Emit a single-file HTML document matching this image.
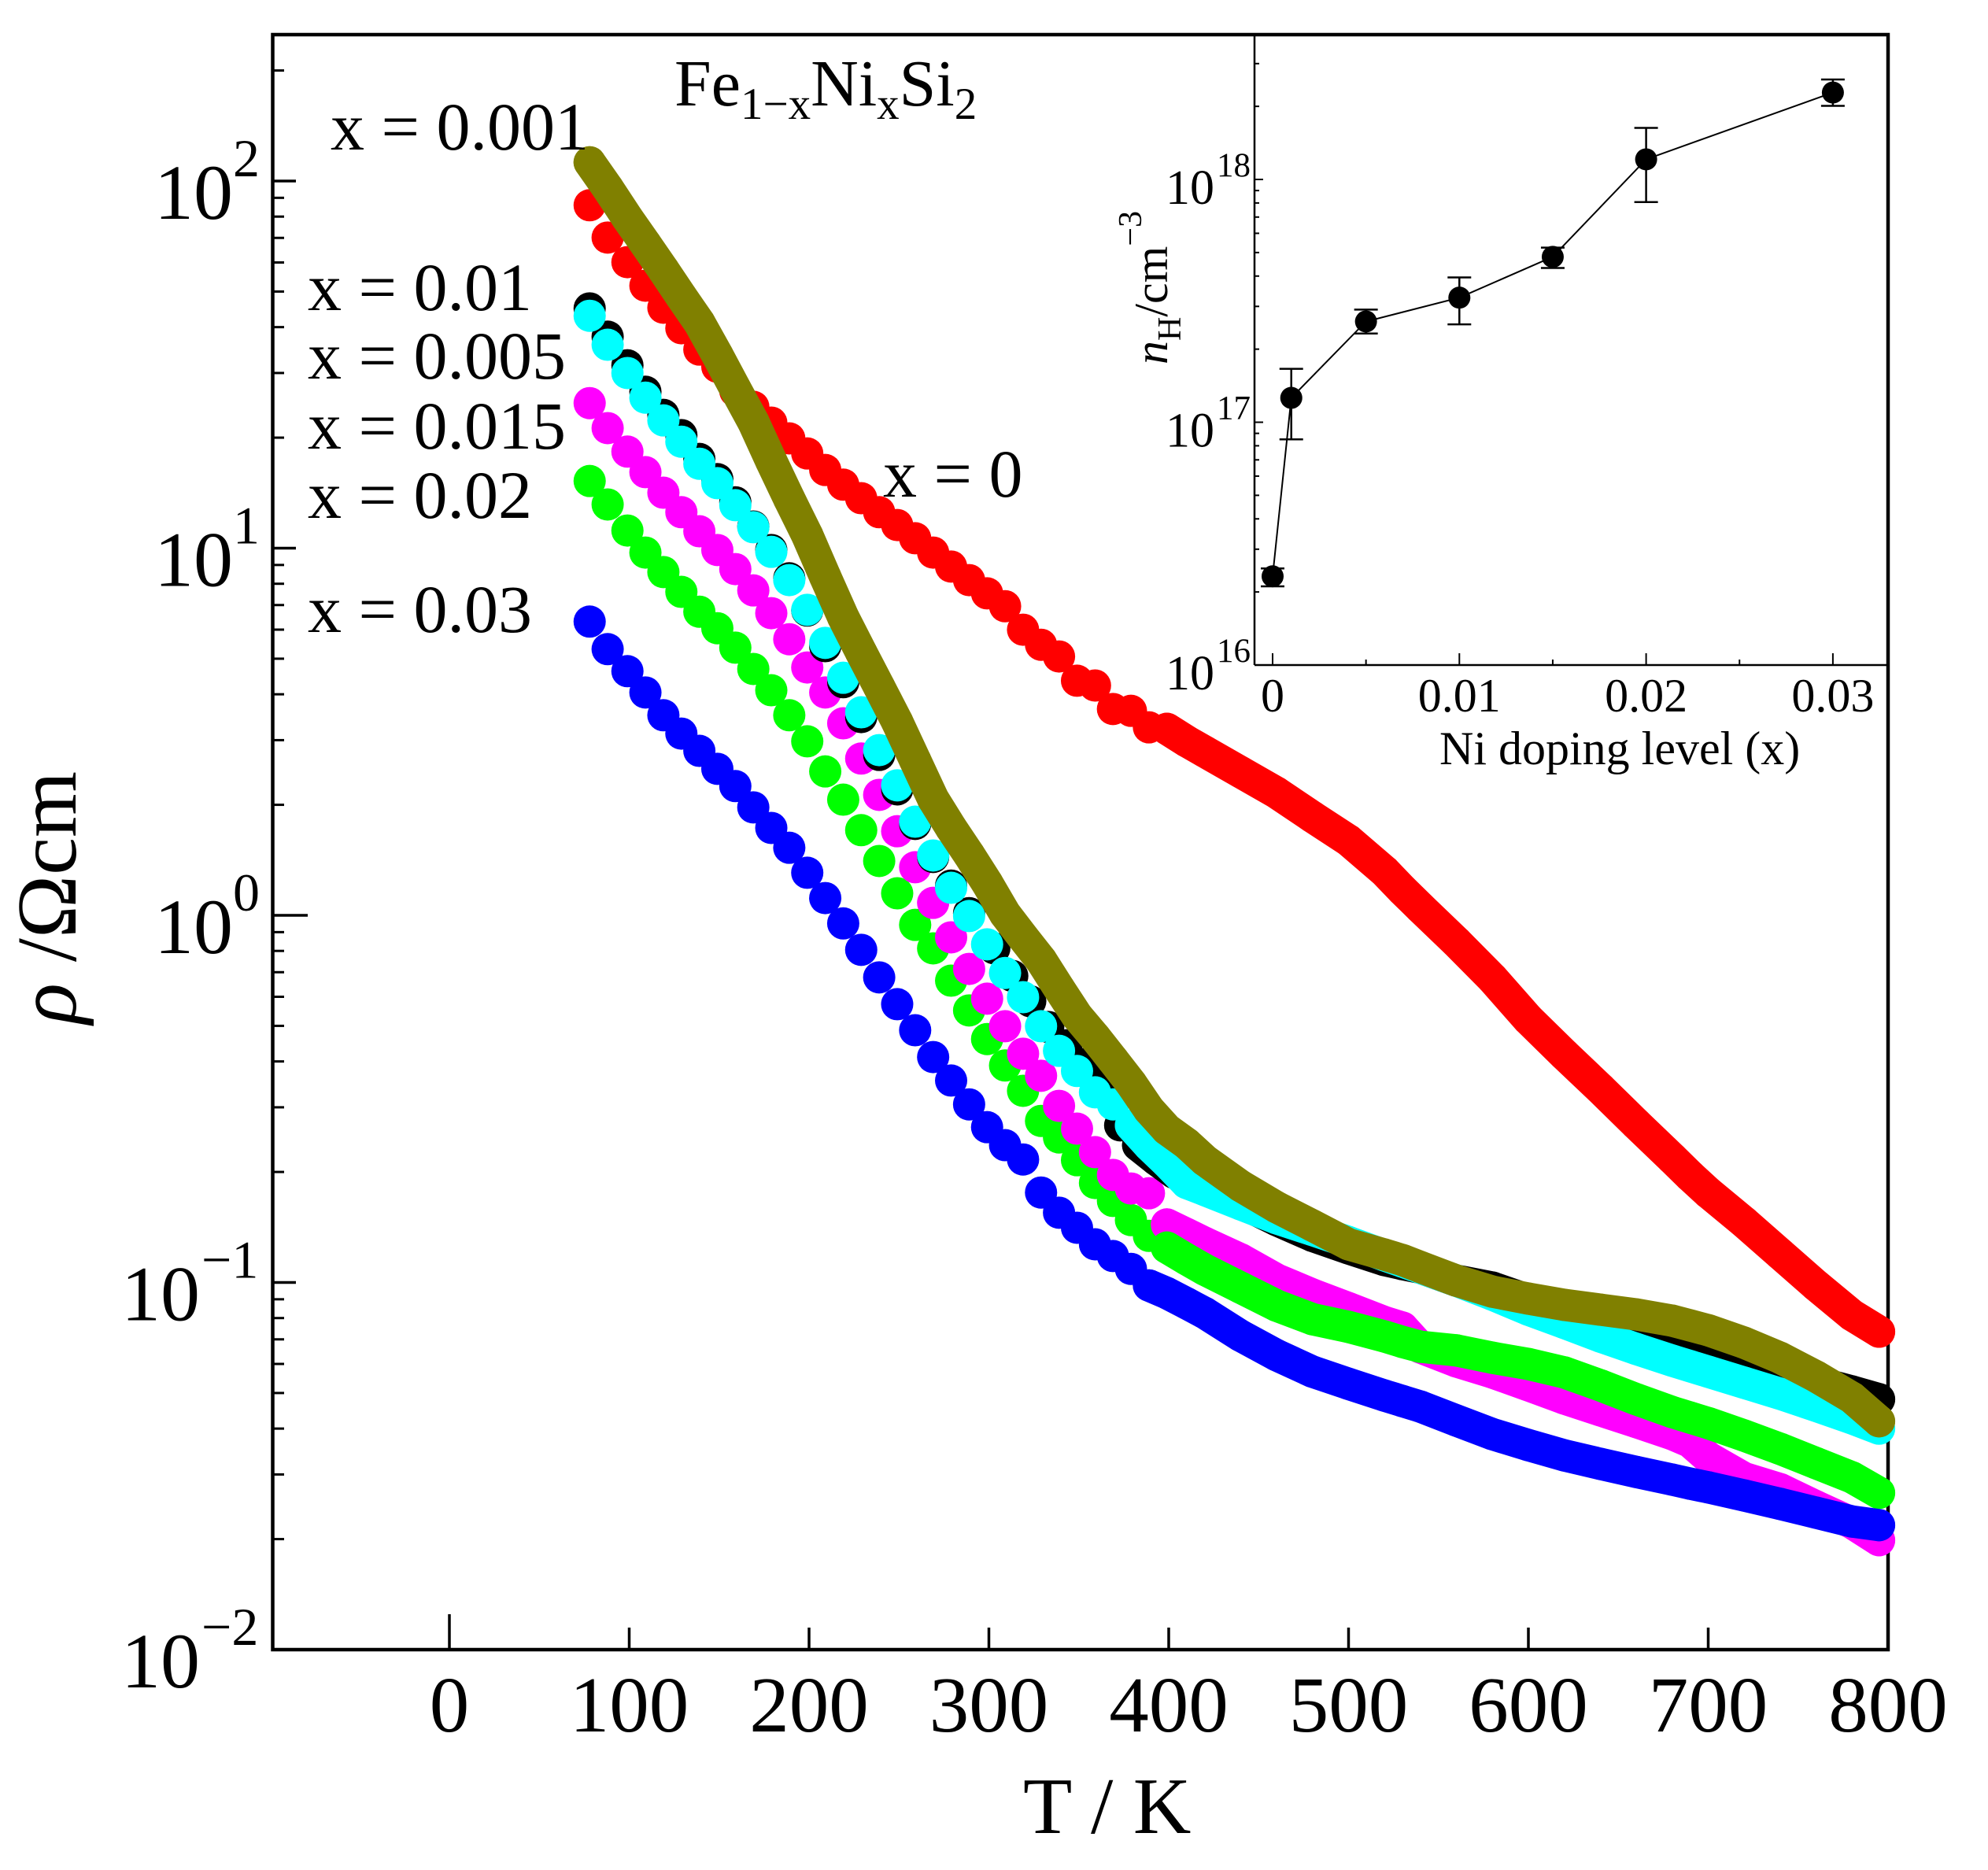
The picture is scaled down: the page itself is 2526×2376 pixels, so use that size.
<!DOCTYPE html>
<html lang="en">
<head>
<meta charset="utf-8">
<title>Fe1-xNixSi2 resistivity versus temperature</title>
<style>
html,body{margin:0;padding:0;background:#fff;}
svg{display:block;}
text{font-family:"Liberation Serif",serif;fill:#000;}
</style>
</head>
<body>
<svg id="chart" xmlns="http://www.w3.org/2000/svg" width="2526" height="2376" viewBox="0 0 2526 2376">
  <rect x="0" y="0" width="2526" height="2376" fill="#fff"/>
  <g id="axes"></g>
  <g id="inset"></g>
  <g id="series"></g>
  <g>
    <text x="857" y="134" font-size="84">Fe<tspan dy="17" font-size="57">1−x</tspan><tspan dy="-17">Ni</tspan><tspan dy="17" font-size="57">x</tspan><tspan dy="-17">Si</tspan><tspan dy="17" font-size="57">2</tspan></text>
    <text x="420" y="190" font-size="86">x = 0.001</text>
    <text x="391" y="394" font-size="86">x = 0.01</text>
    <text x="391" y="481" font-size="86">x = 0.005</text>
    <text x="391" y="570" font-size="86">x = 0.015</text>
    <text x="391" y="658" font-size="86">x = 0.02</text>
    <text x="391" y="803" font-size="86">x = 0.03</text>
    <text x="1122" y="631" font-size="86">x = 0</text>
    <text x="1300" y="2329" font-size="102">T / K</text>
    <text transform="translate(96 1301) rotate(-90)" font-size="108"><tspan font-style="italic">ρ</tspan> /Ωcm</text>
    <text transform="translate(1483 463) rotate(-90)" font-size="60"><tspan font-style="italic">n</tspan><tspan dy="17" font-size="42">H</tspan><tspan dy="-17">/cm</tspan><tspan dy="-33" font-size="42">−3</tspan></text>
    <text x="1829" y="971" font-size="60">Ni doping level (x)</text>
  </g>
</svg>
<script>
// ---- main chart data: temperature in K, log10(resistivity / Ohm cm) ----
const temperatures = [78,88,99,109,119,129,139,149,159,169,179,189,199,209,219,229,239,249,259,269,279,289,299,309,319,329,339,349,359,369,379,389,399,
  410,420,440,460,480,500,520,530,540,560,580,600,620,640,660,680,690,700,720,740,760,780,795];
const temperaturesBlack = [78,88,99,109,119,129,139,149,159,169,179,189,199,209,219,229,239,249,259,269,279,289,303,313,323,333,343,353,363,373,383,393,403,
  410,420,440,460,480,500,520,530,540,560,580,600,620,640,660,680,690,700,720,740,760,780,795];
const logRhoRed = [1.934,1.846,1.779,1.715,1.655,1.599,1.541,1.494,1.428,1.385,1.342,1.299,1.258,1.213,1.173,1.136,1.098,1.063,1.027,0.988,0.950,0.913,0.877,0.842,0.778,0.737,0.705,0.639,0.626,0.562,0.557,0.512,0.508,
  0.474,0.446,0.390,0.334,0.268,0.204,0.120,0.069,0.021,-0.073,-0.172,-0.283,-0.379,-0.472,-0.568,-0.662,-0.710,-0.755,-0.836,-0.922,-1.008,-1.089,-1.134];
const logRhoOlive = [2.051,1.981,1.899,1.829,1.758,1.685,1.614,1.526,1.434,1.344,1.237,1.134,1.035,0.922,0.812,0.716,0.622,0.527,0.422,0.317,0.238,0.165,0.088,0.004,-0.060,-0.122,-0.199,-0.274,-0.332,-0.394,-0.457,-0.529,-0.583,
  -0.622,-0.667,-0.737,-0.795,-0.845,-0.896,-0.924,-0.939,-0.958,-0.995,-1.025,-1.044,-1.061,-1.074,-1.087,-1.104,-1.117,-1.130,-1.164,-1.205,-1.256,-1.314,-1.378];
const logRhoBlack = [1.653,1.576,1.498,1.426,1.363,1.308,1.243,1.188,1.125,1.059,0.995,0.918,0.830,0.733,0.635,0.540,0.437,0.343,0.249,0.159,0.081,0.006,-0.090,-0.165,-0.234,-0.304,-0.354,-0.405,-0.448,-0.572,-0.626,-0.665,-0.701,
  -0.716,-0.733,-0.782,-0.830,-0.873,-0.907,-0.939,-0.950,-0.960,-0.995,-1.014,-1.048,-1.076,-1.108,-1.145,-1.175,-1.190,-1.205,-1.226,-1.245,-1.271,-1.297,-1.318];
const logRhoCyan = [1.633,1.554,1.477,1.410,1.348,1.290,1.230,1.177,1.117,1.057,0.990,0.913,0.832,0.742,0.647,0.553,0.450,0.354,0.255,0.163,0.075,-0.002,-0.079,-0.157,-0.223,-0.302,-0.369,-0.424,-0.482,-0.515,-0.572,-0.626,-0.673,
  -0.729,-0.748,-0.787,-0.825,-0.857,-0.890,-0.926,-0.943,-0.960,-0.995,-1.033,-1.074,-1.110,-1.147,-1.181,-1.213,-1.228,-1.243,-1.273,-1.303,-1.336,-1.370,-1.398];
const logRhoMagenta = [1.395,1.327,1.263,1.207,1.151,1.098,1.046,0.995,0.943,0.885,0.823,0.752,0.675,0.607,0.523,0.427,0.328,0.229,0.131,0.034,-0.060,-0.146,-0.227,-0.302,-0.377,-0.437,-0.519,-0.581,-0.645,-0.707,-0.744,-0.757,-0.842,
  -0.868,-0.892,-0.937,-0.992,-1.033,-1.070,-1.108,-1.123,-1.177,-1.215,-1.245,-1.280,-1.316,-1.348,-1.380,-1.413,-1.434,-1.477,-1.533,-1.563,-1.610,-1.655,-1.702];
const logRhoGreen = [1.183,1.119,1.048,0.988,0.935,0.881,0.827,0.782,0.729,0.671,0.613,0.545,0.474,0.392,0.315,0.232,0.148,0.060,-0.026,-0.090,-0.178,-0.259,-0.337,-0.409,-0.478,-0.560,-0.605,-0.667,-0.729,-0.778,-0.830,-0.873,-0.905,
  -0.937,-0.965,-1.014,-1.063,-1.100,-1.121,-1.147,-1.162,-1.175,-1.185,-1.205,-1.222,-1.245,-1.280,-1.318,-1.353,-1.368,-1.383,-1.417,-1.453,-1.492,-1.531,-1.573];
const logRhoBlue = [0.800,0.725,0.665,0.607,0.545,0.495,0.448,0.399,0.352,0.294,0.238,0.184,0.116,0.047,-0.022,-0.094,-0.169,-0.242,-0.313,-0.386,-0.450,-0.515,-0.577,-0.626,-0.665,-0.755,-0.810,-0.851,-0.896,-0.928,-0.963,-1.008,-1.029,
  -1.057,-1.083,-1.145,-1.198,-1.243,-1.276,-1.308,-1.323,-1.338,-1.376,-1.413,-1.443,-1.471,-1.494,-1.516,-1.537,-1.548,-1.558,-1.580,-1.603,-1.627,-1.651,-1.661];
const xTickValues = [0,100,200,300,400,500,600,700,800];
const yDecadeExponents = [2,1,0,-1,-2];

// ---- inset data: Ni doping level, Hall carrier density in cm^-3 ----
const dopingLevels = [0,0.001,0.005,0.01,0.015,0.02,0.03];
const carrierDensity = [2.32e16,1.26e17,2.6e17,3.26e17,4.8e17,1.21e18,2.28e18];
const carrierDensityLow = [2.11e16,8.5e16,2.32e17,2.53e17,4.32e17,8.07e17,2.01e18];
const carrierDensityHigh = [2.5e16,1.66e17,2.91e17,3.95e17,5.24e17,1.63e18,2.58e18];
const insetXTickValues = [0,0.01,0.02,0.03];
const insetXMinorValues = [0.005,0.015,0.025];
const insetDecadeExponents = [18,17,16];

const SVG_NS = 'http://www.w3.org/2000/svg';
const axesLayer = document.getElementById('axes');
const insetLayer = document.getElementById('inset');
const seriesLayer = document.getElementById('series');

// main axis functions
function xScale(t){ return 571 + 2.285 * t; }
function yScale(logRho){ return 2096 - 466.5 * (logRho + 2); }
// inset axis functions
function insetX(x){ return 1617 + 23730 * x; }
function insetY(n){ return 845 - 308.5 * (Math.log10(n) - 16); }

function shape(parent, tag, props){
  const el = document.createElementNS(SVG_NS, tag);
  for (const k in props) el.setAttribute(k, props[k]);
  parent.appendChild(el);
  return el;
}
function lineEl(parent, x1, y1, x2, y2, w){
  return shape(parent, 'line', {x1:x1, y1:y1, x2:x2, y2:y2, stroke:'#000', 'stroke-width':w});
}
function powerLabel(parent, x, y, size, expX, expY, expSize, expText){
  const t = shape(parent, 'text', {x:x, y:y, 'font-size':size});
  t.textContent = '10';
  
  
  const e = shape(parent, 'text', {x:expX, y:expY, 'font-size':expSize});
  e.textContent = expText;
  
  
}

// ---- main frame ----
const frame = shape(axesLayer, 'rect', {x:346.5, y:44, width:2052.5, height:2052, fill:'none', stroke:'#000', 'stroke-width':4.5});



// ---- x axis ticks ----
xTickValues.forEach(function(v){
  const len = v === 0 ? 45 : 28;
  const tick = lineEl(axesLayer, xScale(v), 2096, xScale(v), 2096 - len, 3.5);
  
  
  const label = shape(axesLayer, 'text', {x:xScale(v), y:2200, 'font-size':101, 'text-anchor':'middle'});
  label.textContent = String(v);
  
  
});

// ---- y axis ticks ----
yDecadeExponents.forEach(function(exp){
  const y = yScale(exp);
  if (exp !== -2) {
    const len = exp === 0 ? 45 : 30;
    const tick = lineEl(axesLayer, 346, y, 346 + len, y, 3.5);
    
    
  }
  for (let m = 2; m <= 9; m++) {
    const my = yScale(exp + Math.log10(m));
    if (my > 50) {
      const minor = lineEl(axesLayer, 346, my, 361, my, 3);
      
      
    }
  }
  const baseX = exp < 0 ? 154 : 196;
  const expX = exp < 0 ? 256 : 296;
  const expText = exp < 0 ? '\u2212' + Math.abs(exp) : String(exp);
  powerLabel(axesLayer, baseX, y + 48, 100, expX, y - 6, 68, expText);
});

// ---- inset axes ----
const insetLeft = lineEl(insetLayer, 1594, 44, 1594, 845, 2.5);


const insetBottom = lineEl(insetLayer, 1594, 845, 2400, 845, 2.5);



insetXTickValues.forEach(function(v){
  const tick = lineEl(insetLayer, insetX(v), 845, insetX(v), 830, 2);
  
  
  const label = shape(insetLayer, 'text', {x:insetX(v), y:904, 'font-size':60, 'text-anchor':'middle'});
  label.textContent = String(v);
  
  
});
insetXMinorValues.forEach(function(v){
  const tick = lineEl(insetLayer, insetX(v), 845, insetX(v), 838, 2);
  
  
});
insetDecadeExponents.forEach(function(exp){
  const y = insetY(Math.pow(10, exp));
  const tick = lineEl(insetLayer, 1594, y, 1605, y, 2);
  
  
  for (let m = 2; m <= 9; m++) {
    const my = insetY(m * Math.pow(10, exp));
    if (my > 50) {
      const minor = lineEl(insetLayer, 1594, my, 1600, my, 2);
      
      
    }
  }
  powerLabel(insetLayer, 1481, y + 31, 62, 1546, y - 4, 43, String(exp));
});

// ---- inset data marks ----
const insetLine = shape(insetLayer, 'polyline', {
  points: dopingLevels.map(function(x, i){ return insetX(x) + ',' + insetY(carrierDensity[i]); }).join(' '),
  fill:'none', stroke:'#000', 'stroke-width':2
});


dopingLevels.forEach(function(x, i){
  const px = insetX(x);
  const lo = insetY(carrierDensityLow[i]);
  const hi = insetY(carrierDensityHigh[i]);
  const bar = lineEl(insetLayer, px, lo, px, hi, 2.5);
  
  
  const capLow = lineEl(insetLayer, px - 15, lo, px + 15, lo, 2.5);
  
  
  const capHigh = lineEl(insetLayer, px - 15, hi, px + 15, hi, 2.5);
  
  
  const dot = shape(insetLayer, 'circle', {cx:px, cy:insetY(carrierDensity[i]), r:14, fill:'#000'});
  
  
});

// ---- resistivity series ----
const MARK_RADIUS = 20.5;
function drawSeries(name, color, temps, values, bandFrom, fromT, toT){
  const g = shape(seriesLayer, 'g', {fill:color});
  
  
  const bandPoints = [];
  temps.forEach(function(t, i){
    if (t < fromT || t > toT) return;
    if (t >= bandFrom) bandPoints.push(xScale(t) + ',' + yScale(values[i]));
  });
  if (bandPoints.length > 1) {
    const band = shape(g, 'polyline', {
      points: bandPoints.join(' '), fill:'none', stroke:color,
      'stroke-width':MARK_RADIUS * 2, 'stroke-linejoin':'round', 'stroke-linecap':'round'
    });
    
    
  }
  temps.forEach(function(t, i){
    if (t < fromT || t > toT) return;
    const c = shape(g, 'circle', {cx:xScale(t), cy:yScale(values[i]), r:MARK_RADIUS});
    
    
  });
}
drawSeries('series-x-0.02-low', '#00ff00', temperatures, logRhoGreen, 9999, 0, 395);
drawSeries('series-x-0.015-low', '#ff00ff', temperatures, logRhoMagenta, 9999, 0, 395);
drawSeries('series-x-0.015-high', '#ff00ff', temperatures, logRhoMagenta, 395, 395, 900);
drawSeries('series-x-0.02-high', '#00ff00', temperatures, logRhoGreen, 395, 395, 900);
drawSeries('series-x-0.03', '#0000ff', temperatures, logRhoBlue, 389, 0, 900);
drawSeries('series-x-0.01', '#000000', temperaturesBlack, logRhoBlack, 383, 0, 900);
drawSeries('series-x-0.005', '#00ffff', temperatures, logRhoCyan, 379, 0, 900);
drawSeries('series-x-0', '#ff0000', temperatures, logRhoRed, 399, 0, 900);
drawSeries('series-x-0.001', '#808000', temperatures, logRhoOlive, 0, 0, 900);
</script>
</body>
</html>
